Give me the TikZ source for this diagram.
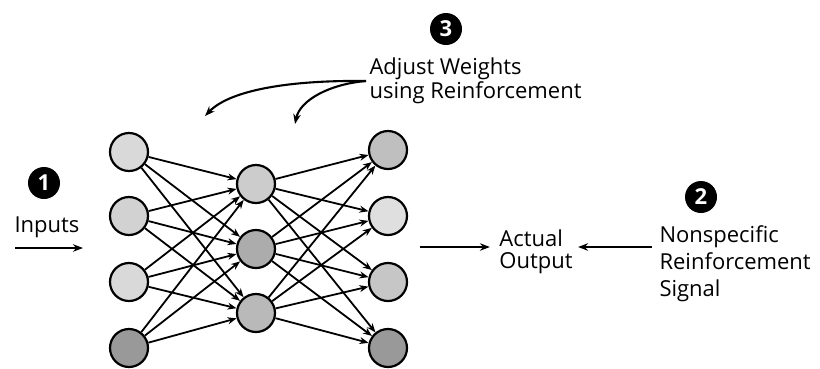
\documentclass[tikz,border=0pt]{standalone}
\usepackage{fontspec}
\setmainfont{Open Sans}
\usepackage{tikz}
\usetikzlibrary{arrows.meta}

\begin{document}
\begin{tikzpicture}[
    x=1pt, y=-1pt,
    neuron/.style={circle, draw, line width=2.2pt, minimum size=38pt, inner sep=0pt},
    badge/.style={circle, fill=black, text=white, minimum size=32pt, inner sep=0pt, font=\fontsize{22}{22}\selectfont\bfseries},
    label/.style={align=left, font=\fontsize{22}{24}\selectfont},
    arrow/.style={-{Stealth[length=10pt, width=7.5pt]}, line width=2.1pt},
    link/.style={-{Stealth[length=9pt, width=7pt]}, line width=1.8pt}
]
\useasboundingbox (0,0) rectangle (820,368);

% Input layer
\node[neuron, fill=gray!30] (in1) at (129,152) {};
\node[neuron, fill=gray!35] (in2) at (129,216) {};
\node[neuron, fill=gray!30] (in3) at (129,282) {};
\node[neuron, fill=gray!80] (in4) at (129,348) {};

% Hidden layer
\node[neuron, fill=gray!40] (hid1) at (256,184) {};
\node[neuron, fill=gray!65] (hid2) at (256,249) {};
\node[neuron, fill=gray!55] (hid3) at (256,313) {};

% Output layer
\node[neuron, fill=gray!50] (out1) at (388,150) {};
\node[neuron, fill=gray!25] (out2) at (388,216) {};
\node[neuron, fill=gray!45] (out3) at (388,282) {};
\node[neuron, fill=gray!80] (out4) at (388,348) {};

% Weights
\foreach \i in {1,...,4}
  \foreach \j in {1,2,3} {
    \draw[link] (in\i) -- (hid\j);
    \draw[link] (hid\j) -- (out\i);
  }

% Inputs
\node[badge] (one) at (44,183) {1};
\node[label] (inputs) at (47,227) {Inputs};
\coordinate (infrom) at (15,248);
\coordinate (into) at (83,248);
\draw[arrow] (infrom) -- (into);

% Actual output
\node[label, font=\fontsize{22}{22}\selectfont] (actual) at (536,252) {Actual\\Output};
\coordinate (outfrom) at (420,247);
\draw[arrow] (outfrom) -- ([xshift=-6pt]actual.west |- outfrom);

% Reinforcement signal
\node[badge] (two) at (701,197) {2};
\node[label, anchor=west, font=\fontsize{22}{27}\selectfont] (signal) at (656,264) {Nonspecific\\Reinforcement\\Signal};
\coordinate (sigfrom) at (652,247);
\draw[arrow] (sigfrom) -- ([xshift=2pt]actual.east |- sigfrom);

% Adjust weights
\node[badge] (three) at (446,29) {3};
\node[label, anchor=west] (adjust) at (366,81) {Adjust Weights\\using Reinforcement};
\coordinate (left) at (205,116);
\coordinate (right) at (295,124);
\draw[arrow] (adjust.west) .. controls (290,80) and (230,90) .. (left);
\draw[arrow] (adjust.west) .. controls (330,84) and (300,100) .. (right);

\end{tikzpicture}
\end{document}
